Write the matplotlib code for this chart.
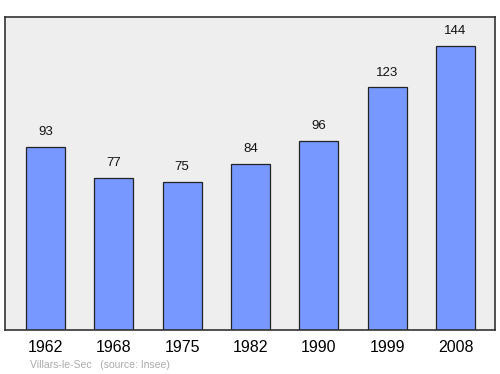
import matplotlib
matplotlib.use('Agg')
import matplotlib.pyplot as plt

plt.rcParams['font.family'] = ['Liberation Sans', 'DejaVu Sans']

years = ['1962', '1968', '1975', '1982', '1990', '1999', '2008']
population = [93, 77, 75, 84, 96, 123, 144]

fig = plt.figure(figsize=(5, 3.74), dpi=100)
ax = fig.add_axes([0.01, 0.1176, 0.98, 0.837])
ax.set_facecolor('#eeeeee')

x = list(range(len(years)))
ax.bar(x, population, width=0.57, color='#7799ff', edgecolor='#222222', linewidth=0.9)
for xi, v in zip(x, population):
    ax.text(xi, v + 4.5, str(v), ha='center', va='bottom', fontsize=9.5, color='#111111')

ax.set_xlim(-0.593, 6.578)
ax.set_ylim(0, 158.7)
ax.set_yticks([])
ax.set_xticks(x)
ax.set_xticklabels(years, fontsize=11.5)
ax.tick_params(axis='x', length=0, pad=7)
for s in ax.spines.values():
    s.set_color('#333333')
    s.set_linewidth(1.2)

fig.text(0.06, 0.017, 'Villars-le-Sec   (source: Insee)', fontsize=7.5, color='#aaaaaa')

fig.savefig('out.png', dpi=100)
